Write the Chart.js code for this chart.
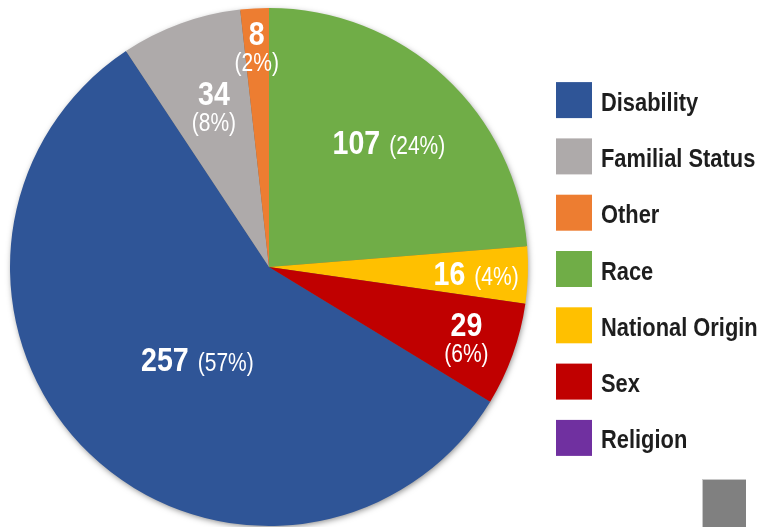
<!DOCTYPE html>
<html>
<head>
<meta charset="utf-8">
<script src="https://cdn.jsdelivr.net/npm/chart.js@4.4.1/dist/chart.umd.min.js"></script>
<style>
  html, body { margin: 0; padding: 0; background: #fff; }
  #wrap { width: 757px; height: 527px; position: relative; }
</style>
</head>
<body>
<div id="wrap"><canvas id="complaints" width="757" height="527"></canvas></div>
<script>
var categories = ['Disability', 'Familial Status', 'Other', 'Race', 'National Origin', 'Sex', 'Religion'];
var complaints = [257, 34, 8, 107, 16, 29, 0];
var colors = ['#2f5597', '#aeaaaa', '#ed7d31', '#70ad47', '#ffc000', '#c00000', '#7030a0'];

// where each slice label sits: share of radius, angle nudge (deg), two lines or one
var labelRadius = [0.45, 0.655, 0.85, 0.67, 0.80, 0.81, 0];
var labelShift = [-6, 1, 0, 1, 0, 0, 0];
var labelStacked = [false, true, true, false, false, true, false];

var total = complaints.reduce(function(a, b) { return a + b; }, 0);
var beforeRace = 0;
for (var i = 0; i < categories.indexOf('Race'); i++) beforeRace += complaints[i];
var startAngle = 360 - beforeRace / total * 360; // Race starts at 12 o'clock

var FAMILY = '"Liberation Sans", Arial, sans-serif';

function textWidth(ctx, text, font, squeeze) {
  ctx.save();
  ctx.font = font;
  var w = ctx.measureText(text).width * squeeze;
  ctx.restore();
  return w;
}

// draws condensed text (the original uses a narrow face)
function narrowText(ctx, text, x, y, font, align, squeeze) {
  var w = textWidth(ctx, text, font, squeeze);
  var left = align === 'center' ? x - w / 2 : x;
  ctx.save();
  ctx.font = font;
  ctx.textAlign = 'left';
  ctx.textBaseline = 'alphabetic';
  ctx.translate(left, y);
  ctx.scale(squeeze, 1);
  ctx.fillText(text, 0, 0);
  ctx.restore();
  return w;
}

var pieShadow = {
  id: 'pieShadow',
  beforeDatasetsDraw: function(chart) {
    var arc = chart.getDatasetMeta(0).data[0];
    var ctx = chart.ctx;
    ctx.save();
    ctx.shadowColor = 'rgba(0,0,0,0.5)';
    ctx.shadowBlur = 6;
    ctx.shadowOffsetX = 1;
    ctx.shadowOffsetY = 2;
    ctx.fillStyle = '#666';
    ctx.beginPath();
    ctx.arc(arc.x, arc.y, arc.outerRadius - 1, 0, Math.PI * 2);
    ctx.fill();
    ctx.restore();
  }
};

var sliceLabels = {
  id: 'sliceLabels',
  afterDatasetsDraw: function(chart) {
    var ctx = chart.ctx;
    var bold = 'bold 34px ' + FAMILY;
    var light = '25px ' + FAMILY;
    var sq = 0.84;
    chart.getDatasetMeta(0).data.forEach(function(arc, i) {
      var v = complaints[i];
      if (!v) return;
      var p = arc.getProps(['x', 'y', 'startAngle', 'endAngle', 'outerRadius'], true);
      var mid = (p.startAngle + p.endAngle) / 2 + labelShift[i] * Math.PI / 180;
      var r = p.outerRadius * labelRadius[i];
      var cx = p.x + Math.cos(mid) * r;
      var cy = p.y + Math.sin(mid) * r;
      var pct = '(' + Math.round(v / total * 100) + '%)';
      ctx.fillStyle = '#fff';
      if (labelStacked[i]) {
        narrowText(ctx, String(v), cx, cy - 14 + 12, bold, 'center', sq);
        narrowText(ctx, pct, cx, cy + 15 + 9, light, 'center', sq);
      } else {
        var w1 = textWidth(ctx, String(v), bold, sq);
        var w2 = textWidth(ctx, pct, light, sq);
        var gap = 9;
        var left = cx - (w1 + gap + w2) / 2;
        var base = cy + 12;
        narrowText(ctx, String(v), left, base, bold, 'left', sq);
        narrowText(ctx, pct, left + w1 + gap, base, light, 'left', sq);
      }
    });
  }
};

var sideLegend = {
  id: 'sideLegend',
  afterDraw: function(chart) {
    var ctx = chart.ctx;
    var arc = chart.getDatasetMeta(0).data[0];
    var box = 36, step = 56.3;
    var x = chart.chartArea.right + 28;
    var top = arc.y + 2 - ((categories.length - 1) * step + box) / 2;
    categories.forEach(function(name, i) {
      var y = top + i * step;
      ctx.fillStyle = colors[i];
      ctx.fillRect(x, y, box, box);
      ctx.fillStyle = '#1e1e1e';
      narrowText(ctx, name, x + box + 9, y + box / 2 + 1 + 9.5, 'bold 26.5px ' + FAMILY, 'left', 0.825);
    });
    // stray grey block at the bottom right of the original
    ctx.fillStyle = '#c8c8c8';
    ctx.fillRect(chart.width - 55, chart.height - 48, 44, 48);
    ctx.fillStyle = '#808080';
    ctx.fillRect(chart.width - 54, chart.height - 47, 43, 47);
  }
};

var ctx = document.getElementById('complaints');
var myChart = new Chart(ctx, {
  type: 'pie',
  plugins: [pieShadow, sliceLabels, sideLegend],
  data: {
    labels: categories,
    datasets: [{
      data: complaints,
      backgroundColor: colors,
      borderWidth: 0
    }]
  },
  options: {
    responsive: false,
    animation: false,
    rotation: startAngle,
    layout: { padding: { left: 10, top: 8, right: 229, bottom: 1 } },
    plugins: {
      legend: { display: false },
      tooltip: { enabled: false }
    }
  }
});
</script>
</body>
</html>
